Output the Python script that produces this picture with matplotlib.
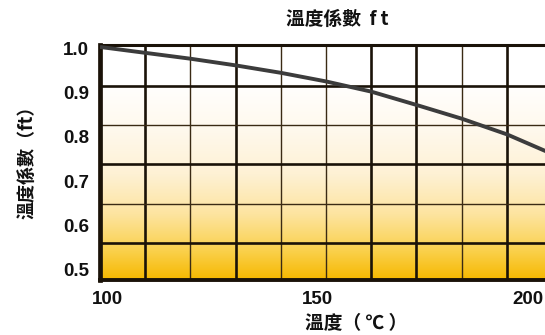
import numpy as np
import matplotlib
matplotlib.use("Agg")
import matplotlib.pyplot as plt
from matplotlib.colors import LinearSegmentedColormap

# ---- data ----
temps = [100, 110, 120, 130, 140, 150, 160, 170, 180, 190, 200]
coef = [1.0, 0.985, 0.97, 0.953, 0.934, 0.912, 0.886, 0.852, 0.817, 0.777, 0.727]
x_tick_vals = [100, 150, 200]
x_tick_labels = ["100", "150", "200"]
y_tick_vals = [1.0, 0.9, 0.8, 0.7, 0.6, 0.5]
y_tick_labels = ["1.0", "0.9", "0.8", "0.7", "0.6", "0.5"]
thick_x = [110, 130, 160, 170, 190]
thin_x = [120, 140, 150, 180]
thick_y = [0.9, 0.7, 0.5]
thin_y = [0.8, 0.6]
title = "溫度係數  f t"
xlabel = "溫度（ ℃ ）"
ylabel = "溫度係數（ft）"

W, H = 545, 335
fig = plt.figure(figsize=(W / 100, H / 100), dpi=100)

# axes pixel geometry (from top-left)
left_px, right_px, top_px, bot_px = 100, 552, 45, 280
pos = [left_px / W, 1 - bot_px / H, (right_px - left_px) / W, (bot_px - top_px) / H]
ax = fig.add_axes(pos)
xlim = (100, 200)
ylim = (0.405, 1.005)
ax.set_xlim(*xlim)
ax.set_ylim(*ylim)

# gradient background
cmap = LinearSegmentedColormap.from_list(
    "bg",
    [(0.0, "#F6B800"), (0.12, "#FAD04A"), (0.28, "#FDE4A0"),
     (0.45, "#FEF1D4"), (0.65, "#FFF9EE"), (0.85, "#FFFFFF"), (1.0, "#FFFFFF")])
grad = np.linspace(0, 1, 256).reshape(-1, 1)
ax.imshow(grad, origin="lower", aspect="auto", cmap=cmap,
          extent=[xlim[0], xlim[1], ylim[0], ylim[1]], zorder=0)

gc = "#1a1208"
for xv in thick_x:
    ax.axvline(xv, color=gc, lw=1.9, zorder=1)
for xv in thin_x:
    ax.axvline(xv, color="#3a2a14", lw=1.0, zorder=1)
for yv in thick_y:
    ax.axhline(yv, color=gc, lw=1.9, zorder=1)
for yv in thin_y:
    ax.axhline(yv, color="#3a2a14", lw=1.0, zorder=1)

ax.plot(temps, coef, color="#3c3c3c", lw=2.8, zorder=3, solid_capstyle="butt")

for s in ["left", "bottom", "top"]:
    ax.spines[s].set_color(gc)
ax.spines["left"].set_linewidth(3.4)
ax.spines["bottom"].set_linewidth(2.8)
ax.spines["top"].set_linewidth(2.2)
ax.spines["right"].set_visible(False)
ax.set_xticks([])
ax.set_yticks([])

# label axes (tick labels in the original are spaced differently from the grid)
lab = fig.add_axes(pos, frameon=False)
lab.patch.set_alpha(0)
# x: 100 at 107px, 200 at 528px ; y: 1.0 at 48px, 0.5 at 270px
xs = (528 - 107) / 100.0
lab.set_xlim(100 - (107 - left_px) / xs, 100 + (right_px - 107) / xs)
ys = (270 - 48) / 0.5
lab.set_ylim(1.0 - (bot_px - 48) / ys, 1.0 + (48 - top_px) / ys)
lab.set_xticks(x_tick_vals, x_tick_labels)
lab.set_yticks(y_tick_vals, y_tick_labels)
lab.tick_params(length=0, labelsize=13.5, pad=8)
for t in lab.get_xticklabels() + lab.get_yticklabels():
    t.set_fontfamily("Liberation Sans")
    t.set_fontweight("bold")
    t.set_color("#111111")

cjk = ["Noto Sans CJK TC", "DejaVu Sans"]
fig.text(337 / W, 1 - 19 / H, title, ha="center", va="center",
         fontsize=13.5, fontweight="heavy", family=cjk, color="#111111")
fig.text(356 / W, 1 - 324 / H, xlabel, ha="center", va="center",
         fontsize=13.5, fontweight="heavy", family=cjk, color="#111111")
fig.text(27 / W, 1 - 158 / H, ylabel, ha="center", va="center", rotation=90,
         fontsize=13, fontweight="heavy", family=cjk, color="#111111")

fig.savefig("out.png", dpi=100)
